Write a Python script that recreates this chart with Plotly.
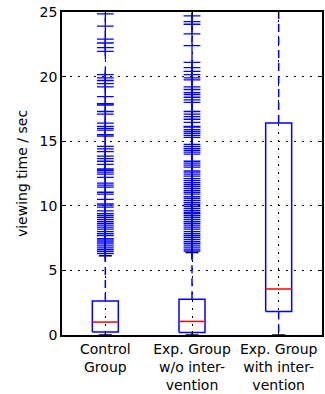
import plotly.graph_objects as go

positions = [1, 2, 3]
tick_labels = ["Control<br>Group", "Exp. Group<br>w/o inter-<br>vention", "Exp. Group<br>with inter-<br>vention"]
q1 = [0.23, 0.2, 1.82]
median = [1.0, 1.05, 3.56]
q3 = [2.64, 2.77, 16.4]
lower_whisker = [0.0, 0.0, 0.0]
upper_whisker = [6.13, 6.38, 40.0]

fliers_control = [6.3, 6.45, 6.6, 6.75, 6.9, 7.05, 7.2, 7.35, 7.45, 7.7, 7.85, 8.0, 8.2, 8.35, 8.5,
                  8.65, 8.8, 8.95, 9.1, 9.25, 9.4, 9.6, 9.9, 10.05, 10.15, 10.5, 10.9, 11.05, 11.45,
                  11.6, 11.75, 12.2, 12.45, 12.6, 12.75, 12.85, 13.2, 13.45, 13.65, 13.85, 14.2, 14.4,
                  14.6, 15.4, 15.5, 15.85, 16.0, 16.15, 16.4, 17.1, 17.3, 17.8, 17.9, 18.45, 19.2,
                  19.45, 19.7, 19.9, 20.15, 21.95, 22.25, 22.6, 22.9, 23.9, 24.85]
fliers_exp_wo = [6.5, 6.65, 6.8, 6.95, 7.1, 7.25, 7.4, 7.55, 7.7, 7.85, 8.0, 8.2, 8.35, 8.5, 8.65,
                 8.8, 8.95, 9.1, 9.25, 9.4, 9.5, 9.65, 9.8, 9.95, 10.1, 10.25, 10.4, 10.55, 10.7,
                 10.9, 11.05, 11.2, 11.35, 11.5, 11.65, 11.8, 11.95, 12.1, 12.3, 12.45, 12.6, 12.7,
                 13.0, 13.15, 13.3, 13.45, 14.0, 14.15, 14.3, 14.45, 14.6, 14.75, 15.3, 15.45, 15.6,
                 15.75, 15.9, 16.1, 16.15, 16.45, 16.7, 16.9, 17.1, 17.3, 18.0, 18.2, 18.4, 18.6,
                 18.75, 19.0, 19.2, 19.75, 19.9, 20.15, 20.4, 20.7, 21.1, 22.4, 23.3, 24.05, 24.25, 24.7]
fliers_exp_with = []
fliers = [fliers_control, fliers_exp_wo, fliers_exp_with]

BLUE = "#0000ff"
RED = "#ff0000"
BOX_HALF = 0.15
CAP_HALF = 0.075

fig = go.Figure()
for i, p in enumerate(positions):
    # whiskers
    fig.add_trace(go.Scatter(x=[p, p, None, p, p], y=[q3[i], upper_whisker[i], None, q1[i], lower_whisker[i]],
                             mode="lines", line=dict(color=BLUE, width=1.5, dash="8px,5px"),
                             hoverinfo="skip", showlegend=False))
    # caps
    fig.add_trace(go.Scatter(x=[p - CAP_HALF, p + CAP_HALF, None, p - CAP_HALF, p + CAP_HALF],
                             y=[upper_whisker[i], upper_whisker[i], None, lower_whisker[i], lower_whisker[i]],
                             mode="lines", line=dict(color="black", width=1.5),
                             hoverinfo="skip", showlegend=False))
    # box
    fig.add_trace(go.Scatter(x=[p - BOX_HALF, p + BOX_HALF, p + BOX_HALF, p - BOX_HALF, p - BOX_HALF],
                             y=[q1[i], q1[i], q3[i], q3[i], q1[i]],
                             mode="lines", line=dict(color=BLUE, width=1.5),
                             hoverinfo="skip", showlegend=False))
    # median
    fig.add_trace(go.Scatter(x=[p - BOX_HALF, p + BOX_HALF], y=[median[i], median[i]],
                             mode="lines", line=dict(color=RED, width=1.5),
                             hoverinfo="skip", showlegend=False))
    # fliers
    if fliers[i]:
        fig.add_trace(go.Scatter(x=[p] * len(fliers[i]), y=fliers[i], mode="markers",
                                 marker=dict(symbol="cross-thin", size=12,
                                             line=dict(color=BLUE, width=1.3), color=BLUE),
                                 cliponaxis=True, hoverinfo="skip", showlegend=False))

fig.update_layout(
    width=325, height=394,
    margin=dict(l=62, r=1, t=12, b=57),
    paper_bgcolor="white", plot_bgcolor="white",
    font=dict(family="DejaVu Sans", size=14, color="black"),
    showlegend=False,
)
fig.update_xaxes(range=[0.5, 3.5], tickvals=positions, ticktext=tick_labels,
                 tickfont=dict(size=14),
                 showgrid=True, gridcolor="black", griddash="2px,6px", gridwidth=1,
                 showline=True, linecolor="black", linewidth=1.5, mirror="ticks",
                 ticks="inside", ticklen=4, tickcolor="black", zeroline=False)
fig.update_yaxes(range=[0, 25], tickvals=[0, 5, 10, 15, 20, 25],
                 tickfont=dict(size=14),
                 title=dict(text="viewing time / sec", standoff=9, font=dict(size=14)),
                 showgrid=True, gridcolor="black", griddash="2px,6px", gridwidth=1,
                 showline=True, linecolor="black", linewidth=1.5, mirror="ticks",
                 ticks="inside", ticklen=4, tickcolor="black", zeroline=False)

fig.write_html("out.html")
